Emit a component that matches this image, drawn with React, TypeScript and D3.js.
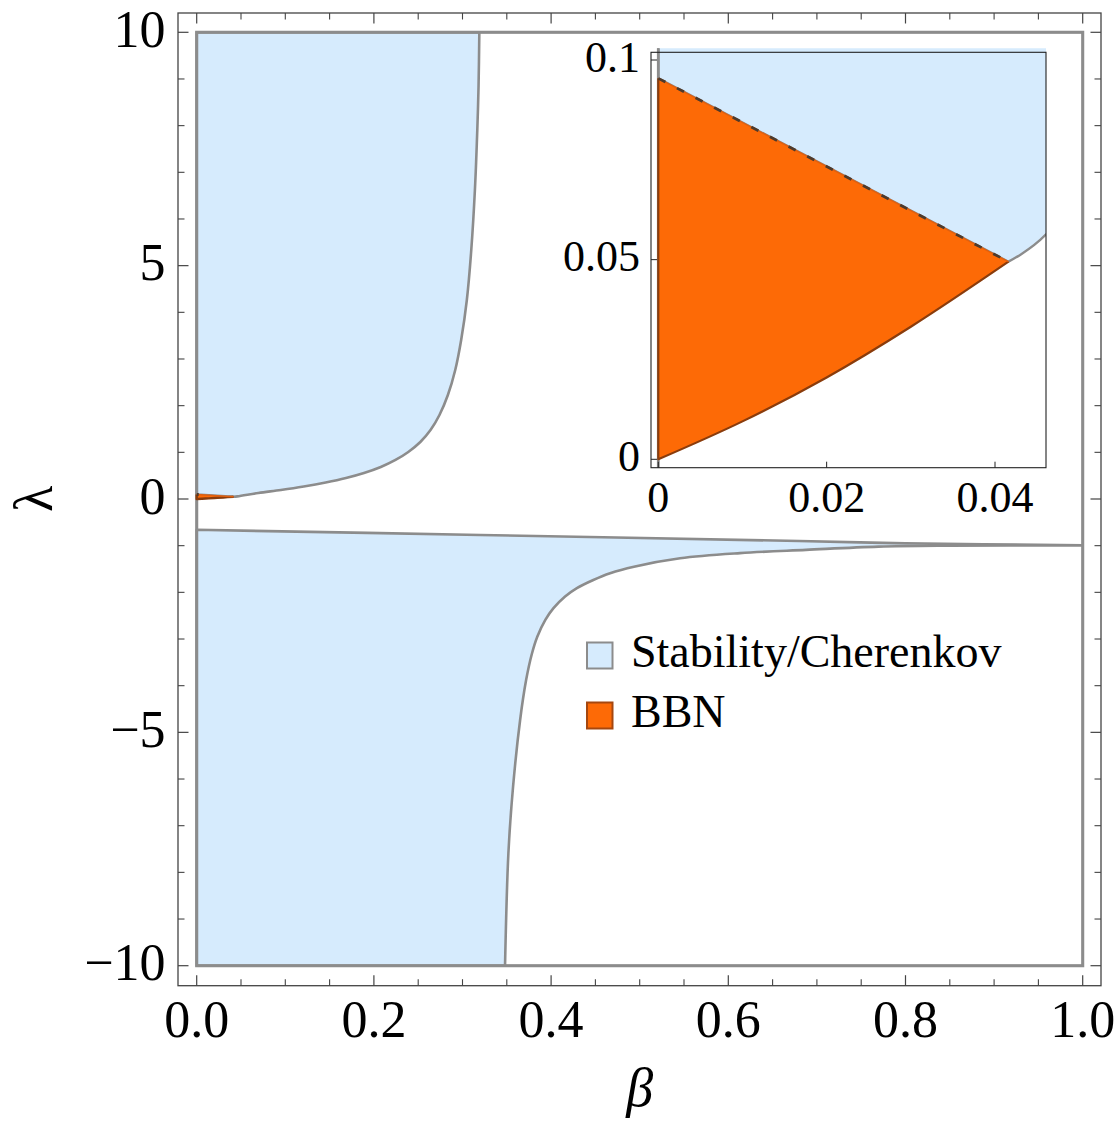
import React from "react";
import * as d3 from "d3";

// ---------- data ----------
const xMajorTicks = [0, 0.2, 0.4, 0.6, 0.8, 1.0];
const xTickLabels = ["0.0", "0.2", "0.4", "0.6", "0.8", "1.0"];
const yMajorTicks = [-10, -5, 0, 5, 10];
const yTickLabels = ["\u221210", "\u22125", "0", "5", "10"];

const insetXTicks = [0, 0.02, 0.04];
const insetXLabels = ["0", "0.02", "0.04"];
const insetYTicks = [0, 0.05, 0.1];
const insetYLabels = ["0", "0.05", "0.1"];

// upper stability boundary (beta, lambda)
const upperBeta = [0.0416, 0.046, 0.0696, 0.095, 0.1208, 0.1456, 0.1685, 0.1888, 0.2078, 0.2244, 0.2388, 0.2524, 0.2639, 0.274, 0.2835, 0.2918, 0.2985, 0.3049, 0.3099, 0.314, 0.3167, 0.3181, 0.319];
const upperLambda = [0.0495, 0.0562, 0.129, 0.193, 0.268, 0.354, 0.45, 0.557, 0.686, 0.836, 1.007, 1.221, 1.478, 1.8, 2.228, 2.764, 3.407, 4.264, 5.335, 6.621, 7.907, 8.834, 10];

// dashed straight edge joining beta=0 to the tip
const edgeBeta = [0, 0.0416];
const edgeLambda = [0.0954, 0.0495];

// lower region: top line and lower curve
const lowerTopBeta = [0, 0.32, 0.68, 0.8, 1.0];
const lowerTopLambda = [-0.66, -0.77, -0.9, -0.95, -0.99];
const lowerCurveBeta = [0.348, 0.3518, 0.3571, 0.365, 0.3718, 0.3784, 0.3844, 0.3935, 0.4027, 0.4158, 0.4291, 0.447, 0.4666, 0.4935, 0.5456, 0.6132, 0.6877, 0.7696, 0.8502, 1.0];
const lowerCurveLambda = [-10, -7.59, -6.16, -4.74, -3.88, -3.31, -2.95, -2.59, -2.34, -2.09, -1.91, -1.74, -1.59, -1.45, -1.27, -1.16, -1.09, -1.02, -1.0, -0.995];

// BBN region
const bbnBottomBeta = [0, 0.01, 0.02, 0.03, 0.0416];
const bbnBottomLambda = [0, 0.0095, 0.0205, 0.0332, 0.0495];

const legendLabels = ["Stability/Cherenkov", "BBN"];

// ---------- styles ----------
const BLUE = "#d6ebfd";
const GRAY = "#8c8c8c";
const ORANGE = "#fd6a06";
const BROWN = "#8a3c0c";
const FRAME = "#444";
const FONT = "'Liberation Serif', 'Times New Roman', serif";

const zip = (a: number[], b: number[]) => a.map((v, i) => [v, b[i]] as [number, number]);

function Layers({ x, y, sw, dash }: { x: any; y: any; sw: number; dash: string }) {
  const line = d3
    .line<[number, number]>()
    .x((d) => x(d[0]))
    .y((d) => y(d[1]))
    .curve(d3.curveCatmullRom.alpha(0.5));
  const lin = d3
    .line<[number, number]>()
    .x((d) => x(d[0]))
    .y((d) => y(d[1]));
  const cont = (pts: [number, number][]) => (line(pts) || "").replace(/^M/, "L");

  const upperPath =
    `M${x(0)},${y(10)}L${x(0)},${y(edgeLambda[0])}` +
    `L${x(edgeBeta[1])},${y(edgeLambda[1])}` +
    cont(zip(upperBeta, upperLambda)) +
    "Z";

  const lowerPath =
    `M${x(0)},${y(-10)}` +
    cont(zip(lowerTopBeta, lowerTopLambda)) +
    cont(zip(lowerCurveBeta, lowerCurveLambda).reverse()) +
    "Z";

  const bbnPath =
    `M${x(0)},${y(edgeLambda[0])}L${x(edgeBeta[1])},${y(edgeLambda[1])}` +
    cont(zip(bbnBottomBeta, bbnBottomLambda).reverse()) +
    "Z";
  const bbnOutline =
    `M${x(0)},${y(edgeLambda[0])}L${x(0)},${y(0)}` + cont(zip(bbnBottomBeta, bbnBottomLambda));

  return (
    <g>
      <path d={upperPath} fill={BLUE} stroke={GRAY} strokeWidth={sw} strokeLinejoin="round" />
      <path d={lowerPath} fill={BLUE} stroke={GRAY} strokeWidth={sw} strokeLinejoin="round" />
      <rect
        x={x(0)}
        y={y(10)}
        width={x(1) - x(0)}
        height={y(-10) - y(10)}
        fill="none"
        stroke={GRAY}
        strokeWidth={sw + 0.5}
      />
      <path d={bbnPath} fill={ORANGE} stroke="none" />
      <path d={bbnOutline} fill="none" stroke={BROWN} strokeWidth={sw * 0.95} strokeLinejoin="round" />
      <path d={lin(zip(edgeBeta, edgeLambda)) || ""} fill="none" stroke="#e06010" strokeWidth={sw * 0.6} />
      <path
        d={lin(zip(edgeBeta, edgeLambda)) || ""}
        fill="none"
        stroke="#4e3a2c"
        strokeWidth={sw * 1.2}
        strokeDasharray={dash}
      />
    </g>
  );
}

export default function App() {
  const W = 1118;
  const H = 1121;

  const x = d3.scaleLinear().domain([0, 1]).range([196.7, 1082.7]);
  const y = d3.scaleLinear().domain([-10, 10]).range([965.7, 32.3]);
  const frame = { l: 178, t: 13, r: 1101, b: 985.7 };

  const xi = d3.scaleLinear().domain([0, 0.04]).range([658.3, 995]);
  const yi = d3.scaleLinear().domain([0, 0.1]).range([459.3, 60]);
  const iframe = { l: 651, t: 52.3, r: 1046, b: 467.7 };

  const xMinor = d3.range(0, 1.0001, 0.05).filter((v) => !xMajorTicks.some((m) => Math.abs(m - v) < 1e-6));
  const yMinor = d3.range(-10, 10.0001, 1).filter((v) => !yMajorTicks.some((m) => Math.abs(m - v) < 1e-6));

  return (
    <svg
      width={W}
      height={H}
      style={{ position: "absolute", left: 0, top: 0, background: "#fff" }}
      fontFamily={FONT}
    >
      <rect x={0} y={0} width={W} height={H} fill="#fff" />
      <defs>
        <clipPath id="mainClip">
          <rect x={frame.l} y={frame.t} width={frame.r - frame.l} height={frame.b - frame.t} />
        </clipPath>
        <clipPath id="insetClip">
          <rect x={iframe.l} y={48.3} width={iframe.r - iframe.l} height={iframe.b - 48.3} />
        </clipPath>
      </defs>

      <g clipPath="url(#mainClip)">
        <Layers x={x} y={y} sw={2.6} dash="2,1000" />
      </g>

      {/* main frame */}
      <rect
        x={frame.l}
        y={frame.t}
        width={frame.r - frame.l}
        height={frame.b - frame.t}
        fill="none"
        stroke={FRAME}
        strokeWidth={1.3}
      />
      {xMajorTicks.map((v) => (
        <g key={"xM" + v}>
          <line x1={x(v)} x2={x(v)} y1={frame.b} y2={frame.b - 10.5} stroke={FRAME} strokeWidth={1.2} />
          <line x1={x(v)} x2={x(v)} y1={frame.t} y2={frame.t + 10.5} stroke={FRAME} strokeWidth={1.2} />
        </g>
      ))}
      {xMinor.map((v) => (
        <g key={"xm" + v}>
          <line x1={x(v)} x2={x(v)} y1={frame.b} y2={frame.b - 6.5} stroke={FRAME} strokeWidth={1.1} />
          <line x1={x(v)} x2={x(v)} y1={frame.t} y2={frame.t + 6.5} stroke={FRAME} strokeWidth={1.1} />
        </g>
      ))}
      {yMajorTicks.map((v) => (
        <g key={"yM" + v}>
          <line x1={frame.l} x2={frame.l + 10.5} y1={y(v)} y2={y(v)} stroke={FRAME} strokeWidth={1.2} />
          <line x1={frame.r} x2={frame.r - 10.5} y1={y(v)} y2={y(v)} stroke={FRAME} strokeWidth={1.2} />
        </g>
      ))}
      {yMinor.map((v) => (
        <g key={"ym" + v}>
          <line x1={frame.l} x2={frame.l + 6.5} y1={y(v)} y2={y(v)} stroke={FRAME} strokeWidth={1.1} />
          <line x1={frame.r} x2={frame.r - 6.5} y1={y(v)} y2={y(v)} stroke={FRAME} strokeWidth={1.1} />
        </g>
      ))}
      {xMajorTicks.map((v, i) => (
        <text key={"xl" + v} x={x(v)} y={1036.5} fontSize={52} textAnchor="middle" fill="#000">
          {xTickLabels[i]}
        </text>
      ))}
      {yMajorTicks.map((v, i) => (
        <text key={"yl" + v} x={165.5} y={y(v) + 14.5} fontSize={52} textAnchor="end" fill="#000">
          {yTickLabels[i]}
        </text>
      ))}
      <text x={639.7} y={1106} fontSize={54} fontStyle="italic" textAnchor="middle" fill="#000">
        β
      </text>
      <text
        x={0}
        y={0}
        fontSize={54}
        textAnchor="middle"
        fill="#000"
        transform={`translate(52,${y(0)}) rotate(-90)`}
      >
        λ
      </text>

      {/* inset */}
      <rect x={iframe.l} y={iframe.t} width={iframe.r - iframe.l} height={iframe.b - iframe.t} fill="#fff" />
      <g clipPath="url(#insetClip)">
        <Layers x={xi} y={yi} sw={2.3} dash="8,13" />
      </g>
      <rect
        x={iframe.l}
        y={iframe.t}
        width={iframe.r - iframe.l}
        height={iframe.b - iframe.t}
        fill="none"
        stroke="#222"
        strokeWidth={1.1}
      />
      {insetXTicks.map((v, i) => (
        <g key={"ix" + v}>
          <line x1={xi(v)} x2={xi(v)} y1={iframe.b} y2={iframe.b - 6} stroke="#222" strokeWidth={1} />
          <text x={xi(v)} y={512} fontSize={44} textAnchor="middle" fill="#000">
            {insetXLabels[i]}
          </text>
        </g>
      ))}
      {insetYTicks.map((v, i) => (
        <g key={"iy" + v}>
          <line x1={iframe.l} x2={iframe.l + 6} y1={yi(v)} y2={yi(v)} stroke="#222" strokeWidth={1} />
          <text x={640} y={yi(v) + 11.5} fontSize={44} textAnchor="end" fill="#000">
            {insetYLabels[i]}
          </text>
        </g>
      ))}

      {/* legend */}
      {legendLabels.map((lab, i) => (
        <g key={lab}>
          <rect
            x={587}
            y={642.5 + i * 60}
            width={25.5}
            height={26}
            fill={i === 0 ? BLUE : ORANGE}
            stroke={i === 0 ? GRAY : "#a5470f"}
            strokeWidth={2}
          />
          <text x={631} y={667 + i * 60} fontSize={46} fill="#000">
            {lab}
          </text>
        </g>
      ))}
    </svg>
  );
}
